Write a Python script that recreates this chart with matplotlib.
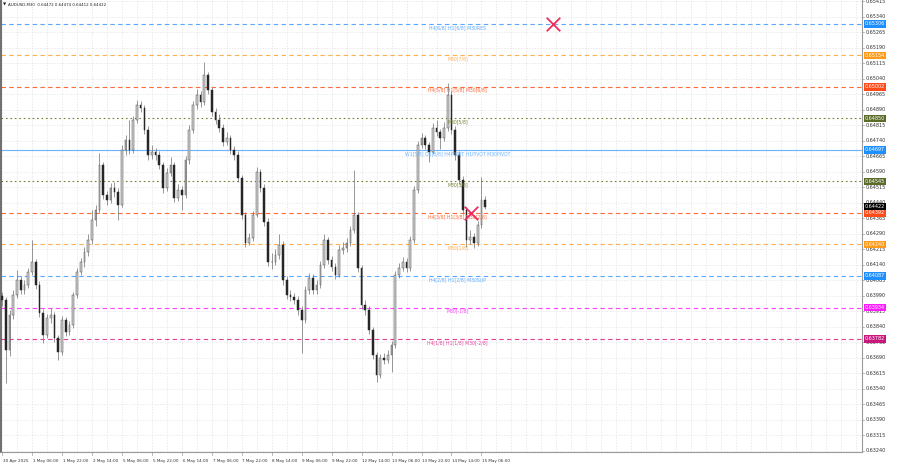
import matplotlib
matplotlib.use("Agg")
import matplotlib.pyplot as plt
import matplotlib.transforms as mtransforms

# ---------------- data ----------------
symbol_title = "AUDUSD,M30  0.64472 0.64474 0.64412 0.64422"
first_open = 0.63990
closes = [0.63971, 0.63729, 0.63898, 0.63995, 0.64067, 0.64019, 0.64043, 0.64106, 0.64155, 0.64043,
          0.63908, 0.63801, 0.63884, 0.63898, 0.63787, 0.63719, 0.63874, 0.63816, 0.63850, 0.63995,
          0.64106, 0.64155, 0.64203, 0.64261, 0.64358, 0.64406, 0.64624, 0.64479, 0.64455, 0.64513,
          0.64493, 0.64430, 0.64696, 0.64745, 0.64696, 0.64842, 0.64914, 0.64900, 0.64793, 0.64672,
          0.64687, 0.64672, 0.64624, 0.64513, 0.64585, 0.64624, 0.64464, 0.64503, 0.64479, 0.64648,
          0.64793, 0.64914, 0.64963, 0.64929, 0.65059, 0.64987, 0.64880, 0.64842, 0.64803, 0.64735,
          0.64755, 0.64696, 0.64672, 0.64561, 0.64382, 0.64246, 0.64271, 0.64382, 0.64590, 0.64513,
          0.64348, 0.64155, 0.64155, 0.64188, 0.64237, 0.64067, 0.63995, 0.63985, 0.63971, 0.63922,
          0.63874, 0.64019, 0.64077, 0.64019, 0.64043, 0.64140, 0.64261, 0.64164, 0.64130, 0.64092,
          0.64213, 0.64222, 0.64246, 0.64309, 0.64382, 0.64125, 0.63946, 0.63922, 0.63825, 0.63705,
          0.63608, 0.63690, 0.63680, 0.63705, 0.63753, 0.64092, 0.64125, 0.64155, 0.64125, 0.64261,
          0.64503, 0.64721, 0.64755, 0.64721, 0.64687, 0.64803, 0.64784, 0.64755, 0.64803, 0.64963,
          0.64793, 0.64672, 0.64551, 0.64406, 0.64261, 0.64276, 0.64246, 0.64334, 0.64455, 0.64422]
highs = [0.64010, 0.63985, 0.63920, 0.64020, 0.64116, 0.64085, 0.64065, 0.64125, 0.64261, 0.64170,
         0.64060, 0.63925, 0.63905, 0.63930, 0.63910, 0.63800, 0.63895, 0.63890, 0.63870, 0.64010,
         0.64125, 0.64175, 0.64225, 0.64290, 0.64406, 0.64430, 0.64682, 0.64640, 0.64500, 0.64535,
         0.64540, 0.64510, 0.64720, 0.64770, 0.64842, 0.64860, 0.64940, 0.64935, 0.64915, 0.64810,
         0.64720, 0.64705, 0.64690, 0.64640, 0.64610, 0.64660, 0.64640, 0.64530, 0.64520, 0.64665,
         0.64815, 0.64935, 0.64990, 0.64980, 0.65122, 0.65075, 0.65000, 0.64900, 0.64870, 0.64820,
         0.64785, 0.64770, 0.64715, 0.64690, 0.64575, 0.64395, 0.64295, 0.64400, 0.64614, 0.64605,
         0.64530, 0.64365, 0.64200, 0.64215, 0.64290, 0.64255, 0.64085, 0.64020, 0.64005, 0.63990,
         0.63940, 0.64040, 0.64100, 0.64095, 0.64065, 0.64160, 0.64290, 0.64275, 0.64185, 0.64150,
         0.64235, 0.64250, 0.64270, 0.64330, 0.64600, 0.64395, 0.64140, 0.63970, 0.63940, 0.63840,
         0.63720, 0.63710, 0.63715, 0.63730, 0.63770, 0.64110, 0.64150, 0.64180, 0.64175, 0.64280,
         0.64520, 0.64740, 0.64780, 0.64770, 0.64735, 0.64825, 0.64842, 0.64800, 0.64830, 0.65021,
         0.64980, 0.64810, 0.64690, 0.64570, 0.64420, 0.64310, 0.64295, 0.64355, 0.64566, 0.64474]
lows = [0.63940, 0.63569, 0.63700, 0.63880, 0.63980, 0.64000, 0.64000, 0.64030, 0.64090, 0.64025,
        0.63890, 0.63762, 0.63785, 0.63860, 0.63765, 0.63680, 0.63705, 0.63795, 0.63800, 0.63835,
        0.63980, 0.64090, 0.64130, 0.64185, 0.64240, 0.64330, 0.64390, 0.64460, 0.64430, 0.64440,
        0.64470, 0.64358, 0.64420, 0.64670, 0.64675, 0.64680, 0.64825, 0.64880, 0.64775, 0.64650,
        0.64655, 0.64650, 0.64605, 0.64490, 0.64500, 0.64570, 0.64445, 0.64450, 0.64406, 0.64465,
        0.64630, 0.64780, 0.64895, 0.64905, 0.64915, 0.64965, 0.64860, 0.64820, 0.64785, 0.64715,
        0.64720, 0.64675, 0.64650, 0.64540, 0.64360, 0.64227, 0.64235, 0.64255, 0.64370, 0.64495,
        0.64330, 0.64135, 0.64120, 0.64140, 0.64170, 0.64045, 0.63975, 0.63965, 0.63950, 0.63900,
        0.63714, 0.63860, 0.64000, 0.64000, 0.64000, 0.64030, 0.64125, 0.64145, 0.64110, 0.64070,
        0.64080, 0.64195, 0.64205, 0.64230, 0.64295, 0.64105, 0.63925, 0.63900, 0.63805, 0.63685,
        0.63574, 0.63595, 0.63660, 0.63665, 0.63622, 0.63740, 0.64075, 0.64110, 0.64105, 0.64110,
        0.64245, 0.64490, 0.64705, 0.64700, 0.64640, 0.64675, 0.64765, 0.64700, 0.64740, 0.64790,
        0.64775, 0.64650, 0.64530, 0.64385, 0.64227, 0.64240, 0.64222, 0.64230, 0.64320, 0.64412]

time_labels = ["30 Apr 2025", "1 May 06:00", "1 May 22:00", "2 May 14:00", "5 May 06:00",
               "5 May 22:00", "6 May 14:00", "7 May 06:00", "7 May 22:00", "8 May 14:00",
               "9 May 06:00", "9 May 22:00", "12 May 14:00", "13 May 06:00", "13 May 22:00",
               "14 May 14:00", "15 May 06:00"]

level_prices = [0.65306, 0.65154, 0.65002, 0.64850, 0.64697, 0.64545,
                0.64392, 0.64240, 0.64087, 0.63934, 0.63782]
level_names = ["H4[6/8] H1[6/8] M30RES", "M30[7/8]", "H4[5/8] H1[5/8] M30[6/8]", "M30[5/8]",
               "W1[5/8] D1[5/8] H4PIVOT H1PIVOT M30PIVOT", "M30[3/8]", "H4[3/8] H1[3/8] M30[2/8]",
               "M30[1/8]", "H4[2/8] H1[2/8] M30SUP", "M30[-1/8]", "H4[1/8] H1[1/8] M30[-2/8]"]
level_colors = ["#5aa8ff", "#ffb050", "#ff6a3a", "#6f8230", "#6ab4ff", "#6f8230",
                "#ff6a3a", "#ffb050", "#5aa8ff", "#ff40ff", "#e0409a"]
level_styles = [(0, (4, 3)), (0, (4, 3)), (0, (4, 3)), (0, (1.5, 2.5)), "-", (0, (1.5, 2.5)),
                (0, (4, 3)), (0, (4, 3)), (0, (4, 3)), (0, (4, 3)), (0, (4, 3))]
box_colors = ["#1e8fff", "#ff9a1a", "#ff4a1a", "#5a6b2a", "#1e8fff", "#5a6b2a",
              "#ff4a1a", "#ff9a1a", "#1e8fff", "#ff1aff", "#c8187e"]

signal_bars = [147.2, 125.1]
signal_prices = [0.65306, 0.64392]

y_min, y_max = 0.63235, 0.65422
tick_start, tick_step, n_ticks = 0.63240, 0.00075, 30
bars_per_label = 8
bars_per_grid = 4

# ---------------- figure ----------------
W, H = 900, 468
fig = plt.figure(figsize=(W / 100, H / 100), dpi=100)
fig.patch.set_facecolor("white")
ax = fig.add_axes([1 / W, 16 / H, 861 / W, 452 / H])
ax.set_facecolor("white")
ax.set_xlim(-0.27, 229.6)
ax.set_ylim(y_min, y_max)

# grid
ticks = [tick_start + k * tick_step for k in range(n_ticks)]
for t in ticks:
    ax.axhline(t, color="#e2e2e2", lw=0.5, ls=(0, (2, 2)), zorder=0)
gx = 0
while gx < 230:
    ax.axvline(gx, color="#e2e2e2", lw=0.5, ls=(0, (2, 2)), zorder=0)
    gx += bars_per_grid

# levels
off = mtransforms.offset_copy(ax.transData, fig=fig, x=0, y=-1.0, units="dots")
for p, name, c, ls in zip(level_prices, level_names, level_colors, level_styles):
    ax.axhline(p, color=c, lw=0.8, ls=ls, alpha=1.0, zorder=1)
    ax.text(121.6, p, name, color=c, fontsize=3.3, ha="center", va="top",
            transform=off, zorder=5)

# candles
opens = [first_open] + closes[:-1]
xs = list(range(len(closes)))
ax.vlines(xs, lows, highs, color="#6e6e6e", lw=0.5, zorder=3)
for x, o, c in zip(xs, opens, closes):
    bottom = min(o, c)
    h = max(abs(c - o), 0.000012)
    if c >= o:
        ax.bar(x, h, bottom=bottom, width=0.45, color="#cfcfcf", edgecolor="#505050",
               linewidth=0.35, zorder=4)
    else:
        ax.bar(x, h, bottom=bottom, width=0.45, color="#262626", edgecolor="#262626",
               linewidth=0.35, zorder=4)

# signal crosses
ax.scatter(signal_bars, signal_prices, marker="x", s=95, color="#ee2b5b", linewidths=1.3, zorder=6)

# frame
ax.spines["top"].set_visible(False)
ax.spines["left"].set_color("#555555")
ax.spines["left"].set_linewidth(1.2)
ax.spines["right"].set_color("#9a9a9a")
ax.spines["right"].set_linewidth(0.8)
ax.spines["bottom"].set_color("#9a9a9a")
ax.spines["bottom"].set_linewidth(0.8)
ax.set_xticks([])
ax.set_yticks([])

# right price axis labels
yax = mtransforms.blended_transform_factory(fig.transFigure, ax.transData)
for t in ticks:
    ax.text(866 / W, t, f"{t:.5f}", transform=yax, fontsize=3.5, color="#333333",
            ha="left", va="center", clip_on=False)
    ax.plot([862 / W, 864 / W], [t, t], transform=yax, color="#9a9a9a", lw=0.5, clip_on=False)

for p, bc in zip(level_prices, box_colors):
    ax.text(865 / W, p, f"{p:.5f}", transform=yax, fontsize=3.5, color="white",
            ha="left", va="center", clip_on=False, zorder=10,
            bbox=dict(boxstyle="square,pad=0.25", fc=bc, ec="none"))
ax.text(865 / W, closes[-1], f"{closes[-1]:.5f}", transform=yax, fontsize=3.5, color="white",
        ha="left", va="center", clip_on=False, zorder=11,
        bbox=dict(boxstyle="square,pad=0.25", fc="black", ec="none"))

# time labels
xax = mtransforms.blended_transform_factory(ax.transData, fig.transFigure)
for k, lab in enumerate(time_labels):
    ax.text(k * bars_per_label + 0.2, 1 - 461 / H, lab, transform=xax, fontsize=3.0,
            color="#333333", ha="left", va="center", clip_on=False)
    ax.plot([k * bars_per_label] * 2, [1 - 452 / H, 1 - 455 / H], transform=xax,
            color="#9a9a9a", lw=0.5, clip_on=False)

# title
fig.text(3 / W, 1 - 4.5 / H, "\u25bc", fontsize=3.0, color="#222222", ha="left", va="center")
fig.text(8 / W, 1 - 4.5 / H, symbol_title, fontsize=2.9, color="#222222", ha="left", va="center")

fig.savefig("out.png", dpi=100, facecolor="white")
